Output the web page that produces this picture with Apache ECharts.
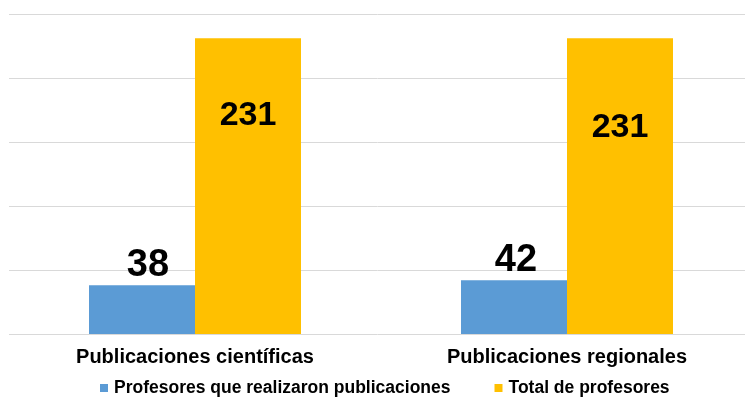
<!DOCTYPE html>
<html>
<head>
<meta charset="utf-8">
<script src="https://cdn.jsdelivr.net/npm/echarts@6/dist/echarts.min.js"></script>
<style>
  html, body { margin: 0; padding: 0; background: #fff; }
  #chart { width: 745px; height: 401px; }
</style>
</head>
<body>
<div id="chart"></div>
<script>
// data
const categories = ['Publicaciones científicas', 'Publicaciones regionales']
const seriesNames = ['Profesores que realizaron publicaciones', 'Total de profesores']
const realizaron = [38, 42]
const total = [231, 231]

const chart = echarts.init(document.getElementById('chart'))

chart.setOption({
  animation: false,
  color: ['#5b9bd5', '#ffc000'],
  textStyle: { fontFamily: 'Liberation Sans, Arial, sans-serif' },
  grid: {
    left: 9,
    right: -8,
    top: 14,
    bottom: 67,
    outerBoundsMode: 'none',
    containLabel: false
  },
  legend: {
    data: seriesNames,
    top: 374,
    left: 95,
    itemWidth: 8,
    itemHeight: 8,
    itemGap: 44,
    icon: 'rect',
    textStyle: {
      color: '#000',
      fontSize: 17.5,
      fontWeight: 'bold',
      padding: [0, 0, 0, 1]
    }
  },
  xAxis: {
    type: 'category',
    data: categories,
    axisLine: { show: false },
    axisTick: { show: false },
    axisLabel: {
      color: '#000',
      fontSize: 20,
      fontWeight: 'bold',
      margin: 13
    }
  },
  yAxis: {
    type: 'value',
    min: 0,
    max: 250,
    interval: 50,
    axisLabel: { show: false },
    axisLine: { show: false },
    axisTick: { show: false },
    splitLine: { lineStyle: { color: '#d9d9d9', width: 1 } }
  },
  series: [
    {
      name: seriesNames[0],
      type: 'bar',
      barWidth: 106,
      barGap: 0,
      data: realizaron.map((v, i) => ({
        value: v,
        label: { offset: [i === 0 ? 6 : 2, 0] }
      })),
      label: {
        show: true,
        position: 'top',
        distance: 1,
        color: '#000',
        fontSize: 38,
        fontWeight: 'bold'
      }
    },
    {
      name: seriesNames[1],
      type: 'bar',
      barWidth: 106,
      data: total.map((v, i) => ({
        value: v,
        label: { offset: [0, i === 0 ? 55 : 67] }
      })),
      label: {
        show: true,
        position: 'insideTop',
        color: '#000',
        fontSize: 34,
        fontWeight: 'bold'
      }
    }
  ]
})
</script>
</body>
</html>
